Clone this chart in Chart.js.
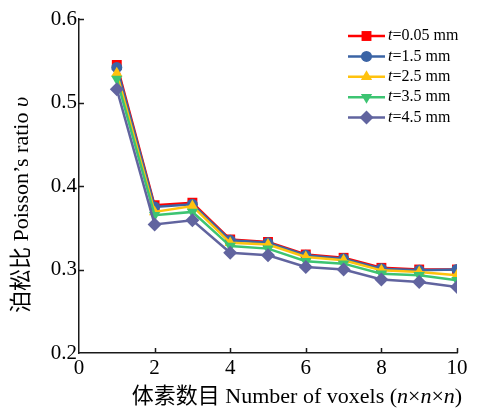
<!DOCTYPE html>
<html>
<head>
<meta charset="utf-8">
<script src="https://cdn.jsdelivr.net/npm/chart.js@4/dist/chart.umd.min.js"></script>
<style>
  html, body { margin: 0; padding: 0; background: #fff; }
  #wrap { width: 481px; height: 409px; }
</style>
</head>
<body>
<div id="wrap"><canvas id="poisson-chart"></canvas></div>
<script>
const voxels = [1, 2, 3, 4, 5, 6, 7, 8, 9, 10]
const t005 = [0.545, 0.377, 0.380, 0.336, 0.333, 0.318, 0.314, 0.302, 0.300, 0.300]
const t15 = [0.542, 0.375, 0.378, 0.335, 0.332, 0.317, 0.313, 0.301, 0.299, 0.300]
const t25 = [0.535, 0.369, 0.376, 0.332, 0.330, 0.315, 0.311, 0.299, 0.297, 0.293]
const t35 = [0.528, 0.365, 0.369, 0.328, 0.325, 0.310, 0.307, 0.295, 0.293, 0.287]
const t45 = [0.516, 0.354, 0.359, 0.320, 0.317, 0.303, 0.300, 0.288, 0.285, 0.279]
const thickness = ['0.05', '1.5', '2.5', '3.5', '4.5']
const xTicks = [2, 4, 6, 8, 10]
const yTicks = [0.3, 0.4, 0.5, 0.6]

const FONT = '"Liberation Serif", "Times New Roman", "Noto Sans CJK SC", serif'
const axisColor = '#1a1a1a'

const styles = [
  { color: '#ff0000', pointStyle: 'rect', radius: 7, rotation: 0 },
  { color: '#3b64a5', pointStyle: 'circle', radius: 5.5, rotation: 0 },
  { color: '#ffc20e', pointStyle: 'triangle', radius: 6.5, rotation: 0 },
  { color: '#3dc472', pointStyle: 'triangle', radius: 6.5, rotation: 180 },
  { color: '#61649f', pointStyle: 'rectRot', radius: 7, rotation: 0 }
]
const series = [t005, t15, t25, t35, t45]

const datasets = series.map((vals, i) => ({
  label: 't=' + thickness[i] + ' mm',
  data: voxels.map((n, k) => ({ x: n, y: vals[k] })),
  borderColor: styles[i].color,
  backgroundColor: styles[i].color,
  borderWidth: 2.5,
  pointStyle: styles[i].pointStyle,
  pointRotation: styles[i].rotation,
  pointRadius: styles[i].radius,
  pointBorderWidth: 0,
  tension: 0,
  order: series.length - i
}))

// draw a line of text made of plain / italic runs, centred on (x, y)
function drawRich(ctx, parts, x, y, size) {
  const fonts = parts.map(p => (p.i ? 'italic ' : '') + size + 'px ' + FONT)
  let total = 0
  parts.forEach((p, k) => { ctx.font = fonts[k]; total += ctx.measureText(p.t).width })
  let cx = x - total / 2
  ctx.textBaseline = 'middle'
  ctx.textAlign = 'left'
  parts.forEach((p, k) => {
    ctx.font = fonts[k]
    ctx.fillText(p.t, cx, y)
    cx += ctx.measureText(p.t).width
  })
}

function marker(ctx, st, x, y) {
  if (Chart.helpers && Chart.helpers.drawPoint) {
    Chart.helpers.drawPoint(ctx, { pointStyle: st.pointStyle, rotation: st.rotation, radius: st.radius, borderWidth: 0 }, x, y)
  } else {
    ctx.beginPath()
    ctx.arc(x, y, st.radius, 0, Math.PI * 2)
    ctx.fill()
  }
}

const decorations = {
  id: 'decorations',
  afterDraw(chart) {
    const { ctx, chartArea: a, scales: { x, y } } = chart
    ctx.save()

    // inward tick marks
    ctx.strokeStyle = axisColor
    ctx.lineWidth = 1.5
    ctx.beginPath()
    xTicks.forEach(v => {
      const px = Math.round(x.getPixelForValue(v)) + 0.5
      ctx.moveTo(px, a.bottom)
      ctx.lineTo(px, a.bottom - 5)
    })
    yTicks.forEach(v => {
      const py = Math.round(y.getPixelForValue(v)) + 0.5
      ctx.moveTo(a.left, py)
      ctx.lineTo(a.left + 5, py)
    })
    ctx.stroke()

    // axis titles
    ctx.fillStyle = '#000'
    drawRich(ctx, [
      { t: '体素数目 Number of voxels (' }, { t: 'n', i: true }, { t: '×' },
      { t: 'n', i: true }, { t: '×' }, { t: 'n', i: true }, { t: ')' }
    ], a.left + 218, a.bottom + 44, 22)

    ctx.save()
    ctx.translate(a.left - 57, a.top + 186)
    ctx.rotate(-Math.PI / 2)
    drawRich(ctx, [{ t: '泊松比 Poisson’s ratio ' }, { t: 'υ', i: true }], 0, 0, 22)
    ctx.restore()

    // legend
    chart.data.datasets.forEach((ds, i) => {
      const ly = a.top + 17 + i * 20.4
      const lx = a.right - 109
      ctx.strokeStyle = ds.borderColor
      ctx.fillStyle = ds.borderColor
      ctx.lineWidth = 2.5
      ctx.beginPath()
      ctx.moveTo(lx, ly)
      ctx.lineTo(lx + 37, ly)
      ctx.stroke()
      marker(ctx, styles[i], lx + 18.5, ly)
      ctx.fillStyle = '#000'
      ctx.textBaseline = 'middle'
      ctx.textAlign = 'left'
      ctx.font = 'italic 16px ' + FONT
      ctx.fillText('t', lx + 40, ly)
      const w = ctx.measureText('t').width
      ctx.font = '16px ' + FONT
      ctx.fillText('=' + thickness[i] + ' mm', lx + 40 + w, ly)
    })

    ctx.restore()
  }
}

new Chart(document.getElementById('poisson-chart'), {
  type: 'line',
  data: { datasets },
  options: {
    responsive: true,
    maintainAspectRatio: false,
    animation: false,
    layout: { padding: { top: 19, right: 24, left: 0, bottom: 0 } },
    plugins: {
      legend: { display: false },
      tooltip: { enabled: false }
    },
    scales: {
      x: {
        type: 'linear',
        min: 0,
        max: 10,
        afterFit: s => { s.height = 56 },
        grid: { display: false, drawTicks: false },
        border: { display: true, color: axisColor, width: 1.5 },
        ticks: {
          stepSize: 2,
          padding: 3,
          color: '#000',
          font: { family: FONT, size: 21 }
        }
      },
      y: {
        min: 0.2,
        max: 0.6,
        afterFit: s => { s.width = 79 },
        grid: { display: false, drawTicks: false },
        border: { display: true, color: axisColor, width: 1.5 },
        ticks: {
          stepSize: 0.1,
          padding: 2,
          color: '#000',
          font: { family: FONT, size: 21 },
          callback: v => v.toFixed(1)
        }
      }
    }
  },
  plugins: [decorations]
})
</script>
</body>
</html>
